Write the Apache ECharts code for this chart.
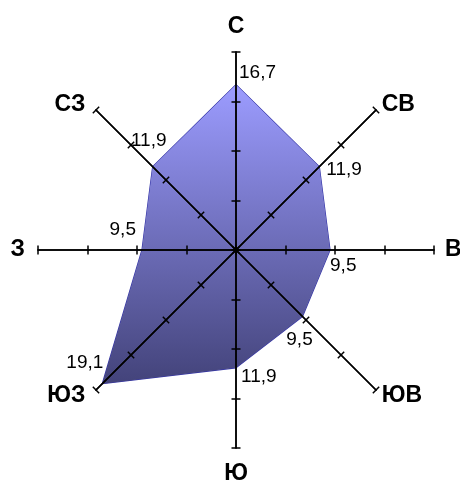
<!DOCTYPE html>
<html>
<head>
<meta charset="utf-8">
<script src="https://cdn.jsdelivr.net/npm/echarts@6/dist/echarts.min.js"></script>
<style>
html,body{margin:0;padding:0;background:#fff;}
#c{width:460px;height:483px;}
</style>
</head>
<body>
<div id="c"></div>
<script>
// Directions in drawing order (starting at top, counter-clockwise)
const directions = ['С', 'СЗ', 'З', 'ЮЗ', 'Ю', 'ЮВ', 'В', 'СВ'];
const values = [16.7, 11.9, 9.5, 19.1, 11.9, 9.5, 9.5, 11.9];
const axisMax = 20;
const axisSplits = 4;

// per-direction value-label placement (offset from the point)
const labelPlace = {
  'С':  {pos: [3, -12], align: 'left'},
  'СЗ': {pos: [-4, -26], align: 'center'},
  'З':  {pos: [-6, -20], align: 'right'},
  'ЮЗ': {pos: [1, -21], align: 'right'},
  'Ю':  {pos: [5, 9], align: 'left'},
  'ЮВ': {pos: [-3, 23], align: 'center'},
  'В':  {pos: [0, 16], align: 'left'},
  'СВ': {pos: [7, 3], align: 'left'}
};

const FONT = 'Arial, "Liberation Sans", sans-serif';
const chart = echarts.init(document.getElementById('c'), null, {renderer: 'canvas'});

const indicators = directions.map(d => ({name: d, max: axisMax, min: 0}));
const radarBase = {
  center: [236, 250],
  radius: 198,
  startAngle: 90,
  shape: 'polygon',
  splitNumber: axisSplits,
  indicator: indicators,
  splitLine: {show: false},
  splitArea: {show: false},
  axisLabel: {show: false},
  axisLine: {show: true, lineStyle: {color: '#000', width: 1.5}},
  z: 5
};

const nameKey = {'С': 'n', 'Ю': 's', 'СЗ': 'w', 'ЮЗ': 'w', 'З': 'w', 'В': 'e'};
const nameStyle = {fontFamily: FONT, fontWeight: 'bold', fontSize: 23, color: '#000'};
const radars = [
  Object.assign({}, radarBase, {
    nameGap: 8,
    axisName: {
      show: true,
      color: '#000',
      fontFamily: FONT,
      fontWeight: 'bold',
      fontSize: 23,
      formatter: function (name) {
        const k = nameKey[name] || 'o';
        return '{' + k + '|' + name + '}';
      },
      rich: {
        n: Object.assign({padding: [0, 0, 6, 0]}, nameStyle),
        s: Object.assign({padding: [6, 0, 0, 0]}, nameStyle),
        w: Object.assign({padding: [0, 5, 0, 0]}, nameStyle),
        e: Object.assign({padding: [0, 0, 0, 3]}, nameStyle),
        o: Object.assign({}, nameStyle)
      }
    },
    axisTick: {show: true, length: 4.5, lineStyle: {color: '#000', width: 1.5}}
  }),
  Object.assign({}, radarBase, {
    axisName: {show: false},
    axisTick: {show: true, length: -4.5, lineStyle: {color: '#000', width: 1.5}}
  })
];

const labelItems = directions.map((d, i) => ({
  value: values,
  symbol: 'circle',
  symbolSize: 0,
  lineStyle: {opacity: 0, width: 0},
  label: {
    show: true,
    position: labelPlace[d].pos,
    align: labelPlace[d].align,
    verticalAlign: 'middle',
    color: '#000',
    fontFamily: FONT,
    fontSize: 19,
    formatter: function (p) {
      if (p.dimensionIndex !== i) return '';
      return String(values[i]).replace('.', ',');
    }
  }
}));

chart.setOption({
  animation: false,
  radar: radars,
  series: [{
    type: 'radar',
    radarIndex: 0,
    z: 2,
    silent: true,
    data: [{
      value: values,
      symbol: 'none',
      lineStyle: {color: '#3535a8', width: 1.2},
      areaStyle: {
        opacity: 1,
        color: {
          type: 'linear', x: 0, y: 0, x2: 0, y2: 1,
          colorStops: [
            {offset: 0, color: '#9c9cff'},
            {offset: 1, color: '#43437a'}
          ]
        }
      }
    }]
  }, {
    type: 'radar',
    radarIndex: 0,
    z: 10,
    silent: true,
    data: labelItems
  }]
});
</script>
</body>
</html>
